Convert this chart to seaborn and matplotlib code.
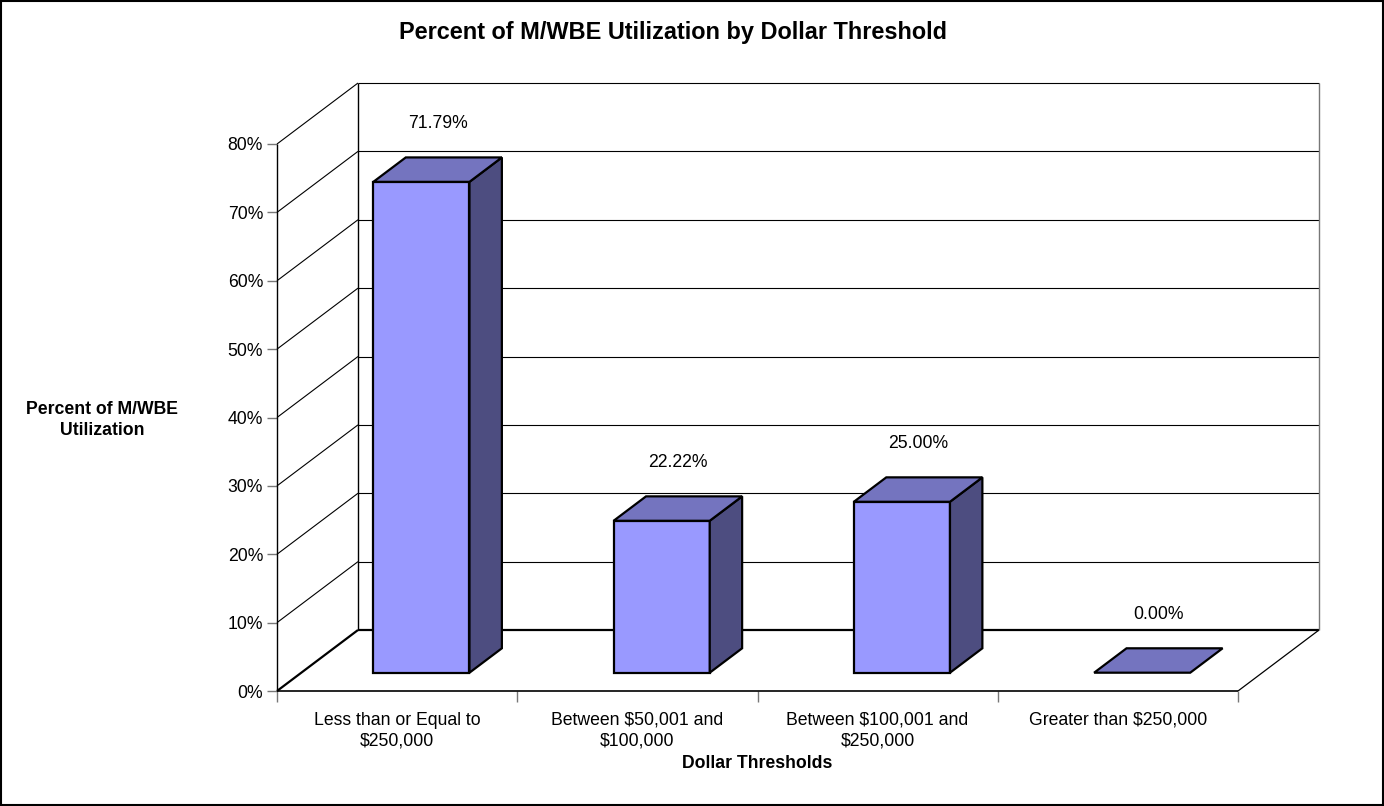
import numpy as np
import matplotlib
matplotlib.use("Agg")
import matplotlib.pyplot as plt
from matplotlib.patches import Rectangle
from matplotlib.transforms import Affine2D
import seaborn as sns

# chart data
categories = ["Less than or Equal to\n$250,000",
              "Between $50,001 and\n$100,000",
              "Between $100,001 and\n$250,000",
              "Greater than $250,000"]
values = [71.79, 22.22, 25.00, 0.00]
yticks = [0, 10, 20, 30, 40, 50, 60, 70, 80]

FRONT = "#9999FF"
TOP = "#7474BF"
SIDE = "#4D4D80"
FS = 12.7

sns.set_theme(style="white")
plt.rcParams["font.family"] = ["Liberation Sans", "DejaVu Sans"]
plt.rcParams["text.color"] = "black"
plt.rcParams["axes.labelcolor"] = "black"
plt.rcParams["xtick.labelcolor"] = "black"
plt.rcParams["ytick.labelcolor"] = "black"

fig = plt.figure(figsize=(13.84, 8.06), dpi=100)
fig.patch.set_facecolor("white")
ax = fig.add_axes([277 / 1384, 1 - 691 / 806, 961 / 1384, 547 / 806])
ax.set_facecolor("none")
ax.set_xlim(-0.5, len(categories) - 0.5)
ax.set_ylim(0, 80)

# oblique depth of the whole box, in data units
DX = 81 / 240.25
DY = 61 / 6.8375
x0, x1 = -0.5, len(categories) - 0.5
ymax = yticks[-1]

lk = dict(clip_on=False, solid_capstyle="butt")
# back wall grid and frame
for v in yticks:
    lw = 1.6 if v == 0 else 0.8
    ax.plot([x0 + DX, x1 + DX], [v + DY, v + DY], color="black", lw=lw, zorder=1, **lk)
    ax.plot([x0, x0 + DX], [v, v + DY], color="black", lw=lw, zorder=1, **lk)
ax.plot([x0 + DX, x0 + DX], [DY, ymax + DY], color="black", lw=1.0, zorder=1, **lk)
ax.plot([x1 + DX, x1 + DX], [DY, ymax + DY], color="#777777", lw=1.0, zorder=1, **lk)
ax.plot([x0, x0], [0, ymax], color="black", lw=1.0, zorder=1, **lk)
# floor
ax.plot([x0, x1], [0, 0], color="black", lw=1.2, zorder=1, **lk)
ax.plot([x1, x1 + DX], [0, DY], color="black", lw=0.9, zorder=1, **lk)

# front faces of the bars
sns.barplot(x=categories, y=values, width=0.4, color=FRONT, saturation=1,
            edgecolor="black", linewidth=1.6, ax=ax, zorder=3)

d0, depth = 0.3, 0.4
ox, oy = d0 * DX, d0 * DY
sdx, sdy = depth * DX, depth * DY
for p, v in zip(ax.patches, values):
    p.set_transform(Affine2D().translate(ox, oy) + ax.transData)
    p.set_clip_on(False)
    bx = p.get_x() + ox
    w = p.get_width()
    h = p.get_height()
    if h > 0:
        ax.fill([bx + w, bx + w + sdx, bx + w + sdx, bx + w],
                [oy, oy + sdy, oy + h + sdy, oy + h],
                facecolor=SIDE, edgecolor="black", lw=1.6, zorder=3, clip_on=False)
    else:
        p.set_visible(False)
    ax.fill([bx, bx + w, bx + w + sdx, bx + sdx],
            [oy + h, oy + h, oy + h + sdy, oy + h + sdy],
            facecolor=TOP, edgecolor="black", lw=1.6, zorder=3, clip_on=False)
    ax.annotate(f"{v:.2f}%", xy=(bx + w / 2 + sdx / 2, oy + h + sdy),
                xytext=(0, 24.5), textcoords="offset points",
                ha="center", va="center", fontsize=FS, annotation_clip=False)

for s in ax.spines.values():
    s.set_visible(False)
ax.grid(False)

ax.set_yticks(yticks)
ax.set_yticklabels([f"{v}%" for v in yticks], fontsize=FS)
ax.tick_params(axis="y", left=True, length=7, width=1, color="#777777", pad=3)
ax.set_xticks(range(len(categories)))
ax.set_xticklabels(categories, fontsize=FS, linespacing=1.3)
ax.set_xticks(np.arange(len(categories) + 1) - 0.5, minor=True)
ax.tick_params(axis="x", which="major", length=0, pad=15)
ax.tick_params(axis="x", which="minor", bottom=True, length=8, width=1, color="#777777")
ax.set_xlabel("Dollar Thresholds", fontsize=FS, fontweight="bold", labelpad=4)
ax.set_ylabel("")

fig.text(102 / 1384, 1 - 420 / 806, "Percent of M/WBE\nUtilization", ha="center",
         va="center", fontsize=FS, fontweight="bold", multialignment="center",
         linespacing=1.25)
fig.text(673 / 1384, 1 - 33 / 806, "Percent of M/WBE Utilization by Dollar Threshold",
         ha="center", va="center", fontsize=16.9, fontweight="bold")

fig.patches.append(Rectangle((0.0008, 0.0012), 0.9984, 0.9976, transform=fig.transFigure,
                             fill=False, edgecolor="black", lw=1.5))

fig.savefig("out.png", dpi=100)
